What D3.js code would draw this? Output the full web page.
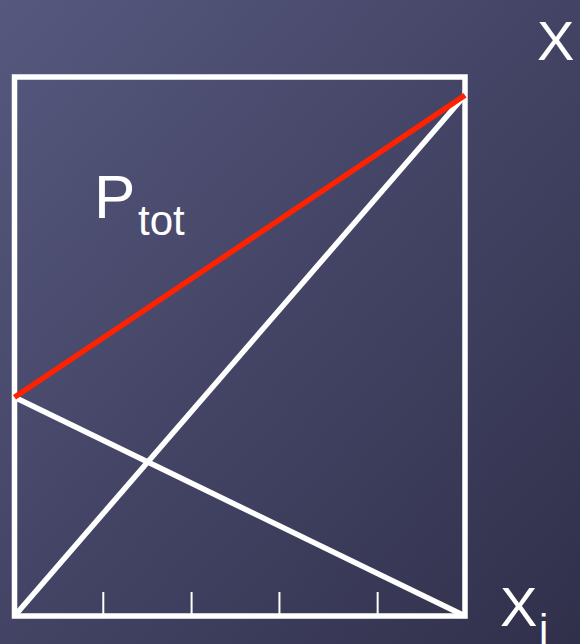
<!DOCTYPE html>
<html>
<head>
<meta charset="utf-8">
<script src="https://cdn.jsdelivr.net/npm/d3@7"></script>
<style>
html,body{margin:0;padding:0;background:#3e3f60;}
svg{display:block;}
text{font-family:"Liberation Sans",Arial,sans-serif;fill:#fff;}
</style>
</head>
<body>
<svg id="chart" width="580" height="644"></svg>
<script>
// Mole fraction of component i (x axis)
const moleFraction = [0, 1];
// Partial pressure of component i
const pressureI = [0, 1.0];
// Partial pressure of component j
const pressureJ = [0.42, 0];
// Total pressure
const pressureTot = [0.42, 1.0];
// Tick positions on the x axis (unlabelled)
const tickValues = [0.196, 0.392, 0.587, 0.805];
const yMax = 1.035;

const svg = d3.select("#chart");
const W = 580, H = 644;

const defs = svg.append("defs");
const grad = defs.append("linearGradient").attr("id","bg")
  .attr("x1","0").attr("y1","0").attr("x2","1").attr("y2","1");
grad.append("stop").attr("offset","0%").attr("stop-color","#56587e");
grad.append("stop").attr("offset","100%").attr("stop-color","#30304b");
svg.append("rect").attr("width",W).attr("height",H).attr("fill","url(#bg)");

const x = d3.scaleLinear().domain([0,1]).range([14.5,465]);
const y = d3.scaleLinear().domain([0,yMax]).range([616,77]);

// ticks
const axis = d3.axisBottom(x).tickValues(tickValues).tickSize(-24).tickFormat("");
const ag = svg.append("g").attr("transform",`translate(0,${y(0)})`).call(axis);
ag.select(".domain").remove();
ag.selectAll(".tick line").attr("stroke","#fff").attr("stroke-width",2);

// box
svg.append("rect")
  .attr("x",x(0)).attr("y",y(yMax))
  .attr("width",x(1)-x(0)).attr("height",y(0)-y(yMax))
  .attr("fill","none").attr("stroke","#fff").attr("stroke-width",5.5);

const line = d3.line().x(d=>x(d[0])).y(d=>y(d[1]));
const series = [
  {vals: pressureI, color:"#ffffff"},
  {vals: pressureJ, color:"#ffffff"},
  {vals: pressureTot, color:"#ff2200"}
];
series.forEach(s=>{
  svg.append("path")
    .datum(moleFraction.map((m,i)=>[m,s.vals[i]]))
    .attr("d",line).attr("fill","none")
    .attr("stroke",s.color).attr("stroke-width",5.5);
});

// labels
const t1 = svg.append("text").attr("x",94).attr("y",218).style("font-size","62px");
t1.append("tspan").text("P");
t1.append("tspan").attr("x",138).attr("y",235).style("font-size","42px").text("tot");

svg.append("text").attr("x",537).attr("y",60).style("font-size","56px").text("X");

const t3 = svg.append("text").attr("x",500).attr("y",626).style("font-size","56px");
t3.append("tspan").text("X");
t3.append("tspan").attr("x",539).attr("y",644).style("font-size","42px").text("i");
</script>
</body>
</html>
